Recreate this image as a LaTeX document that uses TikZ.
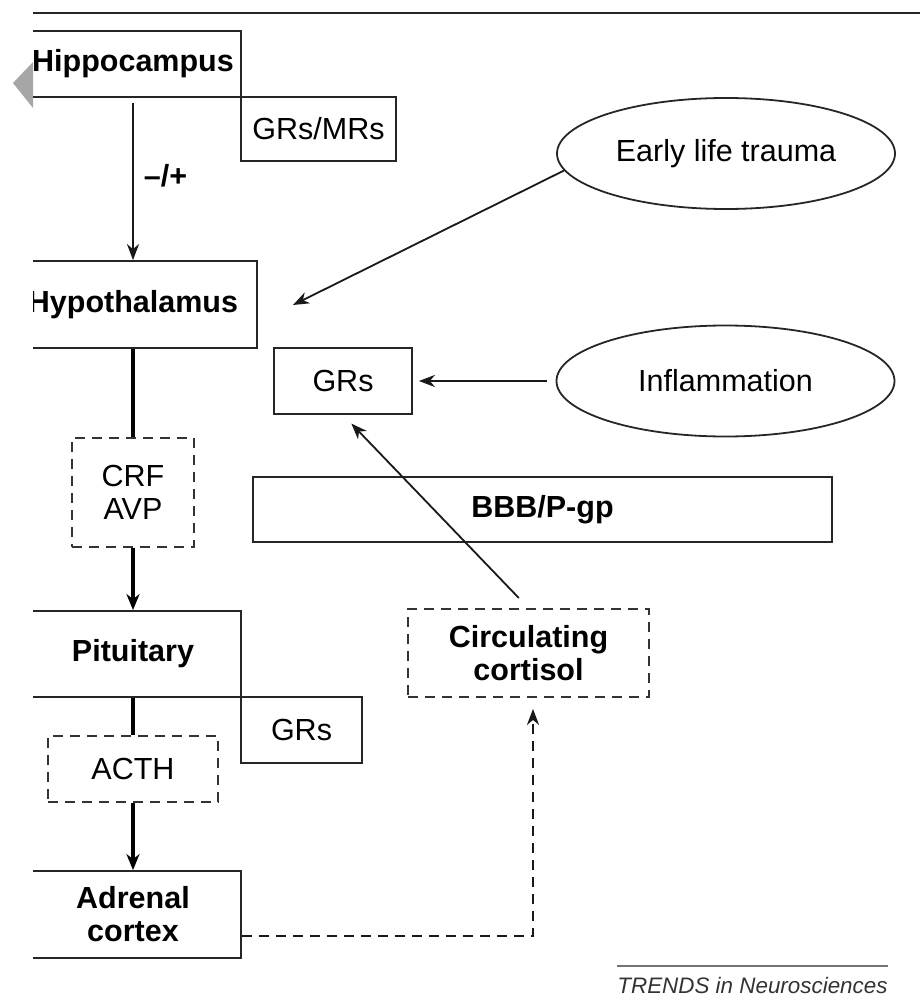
\documentclass[tikz,border=0pt]{standalone}
\usepackage{fontspec}
\setmainfont{Liberation Sans}
\usetikzlibrary{shapes.geometric,arrows.meta}
\newcommand{\labelsize}{\fontsize{15.25}{16.5}\selectfont}

\begin{document}
\begin{tikzpicture}[x=0.5pt,y=-0.5pt,
    every node/.style={inner sep=0pt,align=center,font=\labelsize},
    organ/.style={rectangle,draw=black!85,line width=0.9pt,font=\labelsize\bfseries,minimum width=108pt},
    receptor/.style={rectangle,draw=black!85,line width=0.9pt,minimum height=33pt},
    hormone/.style={rectangle,draw=black!80,line width=0.9pt,dash pattern=on 5pt off 3.5pt},
    factor/.style={ellipse,draw=black!85,line width=0.9pt,minimum width=169pt,minimum height=55.5pt},
    arr/.style={line width=0.9pt,draw=black!90,-{Stealth[length=8pt,width=6pt,inset=2.5pt]}},
    axis/.style={line width=1.6pt},
    axisarr/.style={axis,-{Stealth[length=8pt,width=6.5pt,inset=2.5pt]}}]

    \useasboundingbox (0,0) rectangle (920,1006);
    \fill[black!35] (13,83) -- (33,62) -- (33,108) -- cycle;

    \begin{scope}
    \clip (33,0) rectangle (920,1006);
    \draw[line width=1.1pt,black!85] (33,13) -- (920,13);

    % HPA axis
    \node[organ,minimum height=33pt] (hippo) at (133,64) {Hippocampus};
    \node[receptor,minimum width=77.5pt,minimum height=32pt] (grmr) at (318.5,129) {GRs/MRs};
    \node[organ,minimum width=124pt,minimum height=43.5pt] (hypo) at (133,304.5) {Hypothalamus};
    \node[hormone,minimum width=61pt,minimum height=54.5pt] (crf) at (133,492.5) {CRF\\AVP};
    \node[organ,minimum height=43pt] (pit) at (133,654) {Pituitary};
    \node[receptor,minimum width=60.5pt] (grpit) at (301.5,730) {GRs};
    \node[hormone,minimum width=85pt,minimum height=33pt] (acth) at (133,769) {ACTH};
    \node[organ,minimum height=43.5pt] (adrenal) at (133,914.5) {Adrenal\\cortex};

    % brain side
    \node[factor] (trauma) at (726,153.5) {Early life trauma};
    \node[receptor,minimum width=69pt] (grbrain) at (343,381) {GRs};
    \node[factor] (inflam) at (725.5,381) {Inflammation};
    \node[organ,minimum width=289.5pt,minimum height=32.5pt] (bbb) at (542.5,509.5) {BBB/P-gp};
    \node[hormone,font=\labelsize\bfseries,minimum width=120.5pt,minimum height=44pt] (cortisol) at (528.5,653) {Circulating\\cortisol};
    \coordinate (hypoin) at (293,305);

    \draw[arr,shorten <=2.5pt] (hippo) -- (hypo)
        node[pos=0.48,right=5pt,font=\labelsize\bfseries] (sign) {\textendash/+};
    \draw[axis] (hypo) -- (crf);
    \draw[axisarr] (crf) -- (pit);
    \draw[axis] (pit) -- (acth);
    \draw[axisarr] (acth) -- (adrenal);

    \draw[arr] (trauma.186) -- (hypoin);
    \draw[arr,shorten <=4.5pt,shorten >=3pt] (inflam) -- (grbrain);
    \draw[arr,shorten <=7pt,shorten >=6pt] (cortisol.north) -- (grbrain.south);
    \draw[arr,dash pattern=on 5pt off 3.5pt,shorten >=5.5pt]
        ([yshift=-10.75pt]adrenal.east) -| ([xshift=2.25pt]cortisol.south);

    \node[font=\fontsize{11.2}{13}\selectfont\itshape,text=black!80] (trends) at (752.5,985) {TRENDS in Neurosciences};
    \draw[black!55,line width=1pt] (617,966) -- (888,966);
    \end{scope}
\end{tikzpicture}
\end{document}
